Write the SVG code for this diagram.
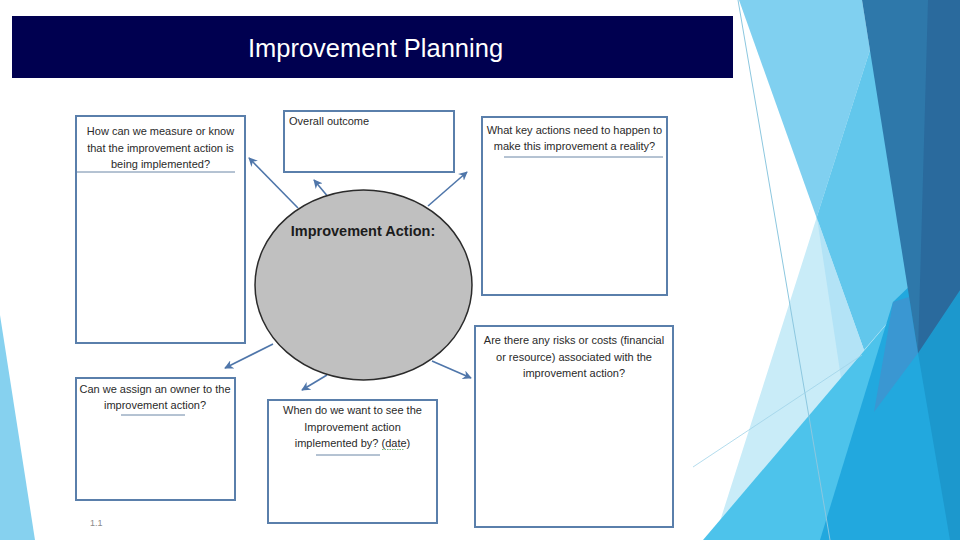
<svg xmlns="http://www.w3.org/2000/svg" width="960" height="540" viewBox="0 0 960 540">
<defs>
<style>
.box{fill:#ffffff;stroke:#5a7fab;stroke-width:2}
.sep{stroke:#6b86a6;stroke-width:1;fill:none}
.q{font-family:"Liberation Sans",Arial,sans-serif;font-size:11px;fill:#2a2a2a;text-anchor:middle}
.conn{stroke:#4f76aa;stroke-width:1.6;fill:none;marker-end:url(#ah)}
</style>
<marker id="ah" viewBox="0 0 10 10" refX="9" refY="5" markerWidth="9" markerHeight="9" markerUnits="userSpaceOnUse" orient="auto">
<path d="M0,0 L10,5 L0,10 L3,5 Z" fill="#4f76aa"/>
</marker>
</defs>
<rect width="960" height="540" fill="#ffffff"/>

<g id="decoration">
<polygon points="0,315 35,540 0,540" fill="#86d1ef"/>
<polygon points="862,0 870,50 714,540 960,540 960,0" fill="#c9ecf8"/>
<polygon points="739,0 862,0 870,50 816.6,217.8" fill="#80d0f0"/>
<polygon points="870,50 816.6,217.8 864,350 960,238 960,0" fill="#62c7ec"/>
<polygon points="817,218 864,350 841,378" fill="#b3e3f6"/>
<polygon points="703,540 960,238 960,540" fill="#4dc3eb"/>
<polygon points="820,540 893,302 960,238 960,540" fill="#22a8de"/>
<polygon points="918,353 960,290 960,540 950,540" fill="#1c98cd"/>
<polygon points="893,302 909,297 918,353 874,412" fill="#3a97d2"/>
<polygon points="862,0 960,0 960,290 918,353" fill="#2e78aa"/>
<polygon points="928,0 960,0 960,290 918,353" fill="#2a6a9d"/>
<line x1="738" y1="0" x2="830" y2="540" stroke="#8cc7df" stroke-width="1"/>
<line x1="693" y1="467" x2="862" y2="355" stroke="#9fd3e8" stroke-width="0.8"/>
</g>

<g id="title">
<rect x="12" y="16" width="721" height="62" fill="#000050"/>
<text x="375.5" y="57" font-family="'Liberation Sans',Arial,sans-serif" font-size="25.5" fill="#ffffff" text-anchor="middle">Improvement Planning</text>
</g>

<g id="connectors">
<line class="conn" x1="298" y1="208" x2="249" y2="158"/>
<line class="conn" x1="329" y1="198" x2="314" y2="180"/>
<line class="conn" x1="428" y1="206" x2="467" y2="172"/>
<line class="conn" x1="273" y1="344" x2="225" y2="368"/>
<line class="conn" x1="327" y1="375" x2="302" y2="390"/>
<line class="conn" x1="432" y1="361" x2="471" y2="378"/>
</g>

<g id="improvement-action">
<ellipse cx="363.5" cy="285" rx="108.5" ry="95" fill="#c0c0c0" stroke="#2b2b2b" stroke-width="1.5"/>
<text x="363" y="236" font-family="'Liberation Sans',Arial,sans-serif" font-size="14.5" font-weight="bold" fill="#1c1c1c" text-anchor="middle">Improvement Action:</text>
</g>

<g id="measure">
<rect class="box" x="76" y="116" width="169" height="227"/>
<text class="q" x="160.5" y="135">How can we measure or know</text>
<text class="q" x="160.5" y="151.5">that the improvement action is</text>
<text class="q" x="160.5" y="168">being implemented?</text>
<line class="sep" x1="77" y1="172" x2="235" y2="172"/>
</g>

<g id="overall-outcome">
<rect class="box" x="284" y="111" width="170" height="61"/>
<text class="q" x="289" y="125" style="text-anchor:start">Overall outcome</text>
</g>

<g id="key-actions">
<rect class="box" x="482" y="117" width="185" height="178"/>
<text class="q" x="574.5" y="133.5">What key actions need to happen to</text>
<text class="q" x="574.5" y="150">make this improvement a reality?</text>
<line class="sep" x1="504" y1="157" x2="663" y2="157"/>
</g>

<g id="risks">
<rect class="box" x="475" y="326" width="198" height="201"/>
<text class="q" x="574" y="344">Are there any risks or costs (financial</text>
<text class="q" x="574" y="360.5">or resource) associated with the</text>
<text class="q" x="574" y="377">improvement action?</text>
</g>

<g id="owner">
<rect class="box" x="76" y="378" width="159" height="122"/>
<text class="q" x="155" y="393">Can we assign an owner to the</text>
<text class="q" x="155" y="409">improvement action?</text>
<line class="sep" x1="121" y1="415" x2="185" y2="415"/>
</g>

<g id="target-date">
<rect class="box" x="268" y="400" width="169" height="123"/>
<text class="q" x="352.5" y="414">When do we want to see the</text>
<text class="q" x="352.5" y="430.5">Improvement action</text>
<text class="q" x="352.5" y="447">implemented by? (date)</text>
<line x1="382" y1="449.5" x2="404" y2="449.5" stroke="#5aa05a" stroke-width="0.8" stroke-dasharray="1.5,1"/>
<line class="sep" x1="316" y1="455" x2="380" y2="455"/>
</g>

<text x="90" y="526" font-family="'Liberation Sans',Arial,sans-serif" font-size="9" fill="#8a8a8a">1.1</text>
</svg>
